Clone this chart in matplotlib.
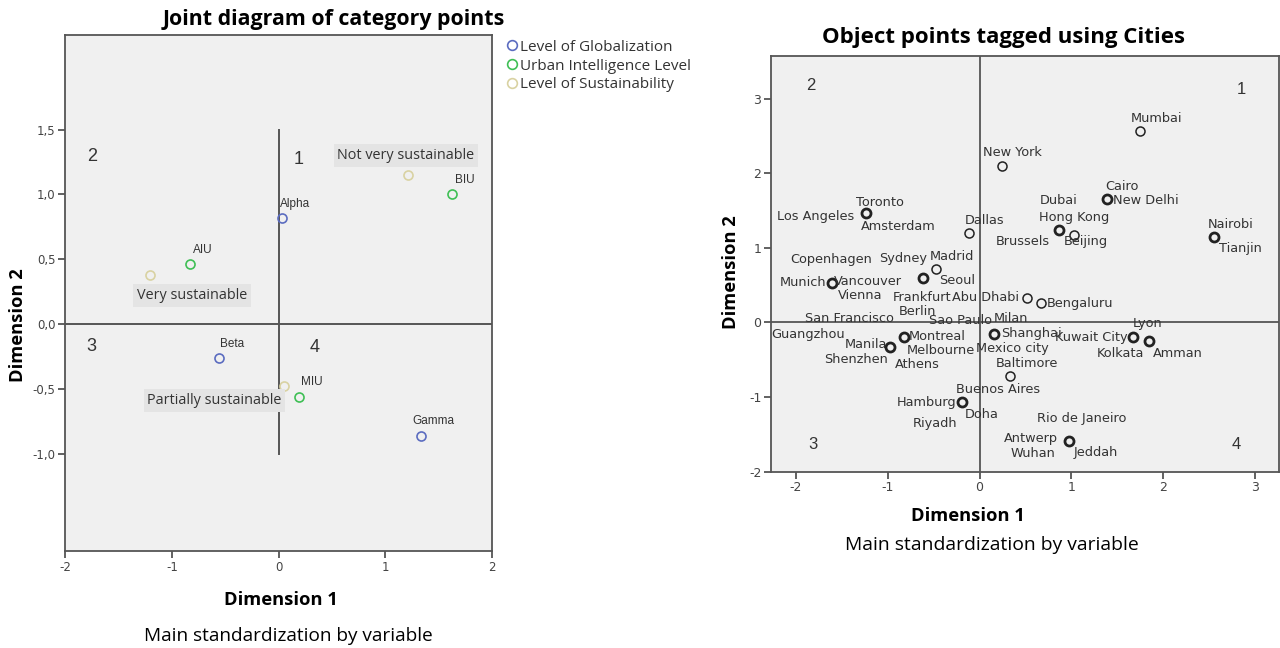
import matplotlib
matplotlib.use("Agg")
import matplotlib.pyplot as plt
from matplotlib.lines import Line2D
from matplotlib.ticker import FuncFormatter

plt.rcParams['axes.unicode_minus'] = False

# ---- left panel: category points ----
glob_names = ["Alpha", "Beta", "Gamma"]
glob_x = [0.03, -0.56, 1.33]
glob_y = [0.82, -0.26, -0.86]

intel_names = ["AIU", "BIU", "MIU"]
intel_x = [-0.83, 1.62, 0.19]
intel_y = [0.46, 1.00, -0.56]

sust_names = ["Very sustainable", "Not very sustainable", "Partially sustainable"]
sust_x = [-1.20, 1.21, 0.05]
sust_y = [0.38, 1.15, -0.48]

legend_labels = ["Level of Globalization", "Urban Intelligence Level", "Level of Sustainability"]
left_yticks = [-1.0, -0.5, 0.0, 0.5, 1.0, 1.5]
left_xticks = [-2, -1, 0, 1, 2]

# ---- right panel: object points (cities) ----
cities = ["Mumbai", "New York", "Cairo", "New Delhi", "Dubai",
          "Toronto", "Los Angeles", "Amsterdam", "Dallas",
          "Hong Kong", "Brussels", "Beijing", "Nairobi", "Tianjin",
          "Madrid", "Sydney", "Seoul", "Frankfurt",
          "Copenhagen", "Munich", "Vancouver", "Vienna",
          "Abu Dhabi", "Bengaluru",
          "Shanghai", "Milan", "Sao Paulo", "Mexico city",
          "Montreal", "Berlin", "Melbourne",
          "Manila", "San Francisco", "Shenzhen", "Athens", "Guangzhou",
          "Kuwait City", "Lyon", "Amman", "Kolkata", "Baltimore",
          "Hamburg", "Buenos Aires", "Doha", "Riyadh",
          "Antwerp", "Rio de Janeiro", "Wuhan", "Jeddah"]
city_x = [1.75, 0.24, 1.39, 1.39, 1.39,
          -1.24, -1.24, -1.24, -0.12,
          0.86, 0.86, 1.03, 2.55, 2.55,
          -0.47, -0.62, -0.62, -0.62,
          -1.61, -1.61, -1.61, -1.61,
          0.52, 0.67,
          0.16, 0.16, 0.16, 0.16,
          -0.82, -0.82, -0.82,
          -0.97, -0.97, -0.97, -0.97, -0.97,
          1.67, 1.67, 1.84, 1.84, 0.33,
          -0.19, -0.19, -0.19, -0.19,
          0.97, 0.97, 0.97, 0.97]
city_y = [2.56, 2.10, 1.66, 1.66, 1.66,
          1.46, 1.46, 1.46, 1.20,
          1.24, 1.24, 1.17, 1.14, 1.14,
          0.72, 0.59, 0.59, 0.59,
          0.53, 0.53, 0.53, 0.53,
          0.33, 0.26,
          -0.15, -0.15, -0.15, -0.15,
          -0.20, -0.20, -0.20,
          -0.33, -0.33, -0.33, -0.33, -0.33,
          -0.19, -0.19, -0.25, -0.25, -0.72,
          -1.07, -1.07, -1.07, -1.07,
          -1.59, -1.59, -1.59, -1.59]
right_ticks_x = [-2, -1, 0, 1, 2, 3]
right_ticks_y = [-2, -1, 0, 1, 2, 3]

# label placement (data-unit offsets from each point, left edge / centre)
label_off = {
    "Mumbai": (-0.10, 0.17), "New York": (-0.20, 0.18), "Cairo": (-0.02, 0.16),
    "New Delhi": (0.06, -0.03), "Dubai": (-0.73, -0.02), "Toronto": (-0.11, 0.15),
    "Los Angeles": (-0.97, -0.04), "Amsterdam": (-0.05, -0.17), "Dallas": (-0.04, 0.16),
    "Hong Kong": (-0.21, 0.17), "Brussels": (-0.68, -0.15), "Beijing": (-0.11, -0.08),
    "Nairobi": (-0.07, 0.17), "Tianjin": (0.06, -0.15), "Madrid": (-0.07, 0.16),
    "Sydney": (-0.47, 0.27), "Seoul": (0.18, -0.03), "Frankfurt": (-0.33, -0.26),
    "Copenhagen": (-0.45, 0.31), "Munich": (-0.56, 0.00), "Vancouver": (0.03, 0.02),
    "Vienna": (0.07, -0.17), "Abu Dhabi": (-0.82, 0.00), "Bengaluru": (0.06, 0.00),
    "Shanghai": (0.07, 0.00), "Milan": (-0.01, 0.20), "Sao Paulo": (-0.71, 0.17),
    "Mexico city": (-0.20, -0.20), "Montreal": (0.05, 0.01), "Berlin": (-0.06, 0.34),
    "Melbourne": (0.03, -0.17), "Manila": (-0.50, 0.03), "San Francisco": (-0.93, 0.38),
    "Shenzhen": (-0.72, -0.17), "Athens": (0.05, -0.24), "Guangzhou": (-1.30, 0.17),
    "Kuwait City": (-0.85, -0.01), "Lyon": (0.00, 0.17), "Amman": (0.05, -0.16),
    "Kolkata": (-0.56, -0.16), "Baltimore": (-0.15, 0.17), "Hamburg": (-0.71, 0.00),
    "Buenos Aires": (-0.07, 0.17), "Doha": (0.03, -0.16), "Riyadh": (-0.54, -0.28),
    "Antwerp": (-0.70, 0.03), "Rio de Janeiro": (-0.34, 0.30), "Wuhan": (-0.63, -0.17),
    "Jeddah": (0.05, -0.15),
}

colors = {'glob': '#5b6cc0', 'intel': '#3fbf55', 'sust': '#d9d2a2'}
face = '#f0f0f0'
spine_c = '#555555'
txt_c = '#333333'
head_font = 'Open Sans'

fig = plt.figure(figsize=(12.8, 6.48), dpi=100)

# ================= left =================
ax = fig.add_axes([65 / 1280, 1 - 551 / 648, 427.3 / 1280, 516 / 648])
ax.set_facecolor(face)
ax.set_xlim(-2, 2)
ax.set_ylim(-1.75, 2.23)
ax.plot([-2, 2], [0, 0], color=spine_c, lw=1.4, zorder=1)
ax.plot([0, 0], [-1.0, 1.5], color=spine_c, lw=1.4, zorder=1)

mk = dict(marker='o', linestyle='none', markersize=6.5, markerfacecolor='none',
          markeredgewidth=1.2, zorder=3)
ax.plot(glob_x, glob_y, markeredgecolor=colors['glob'], **mk)
ax.plot(intel_x, intel_y, markeredgecolor=colors['intel'], **mk)
ax.plot(sust_x, sust_y, markeredgecolor=colors['sust'], **mk)

for names, xs, ys in [(glob_names, glob_x, glob_y), (intel_names, intel_x, intel_y)]:
    for n, x, y in zip(names, xs, ys):
        ax.text(x + 0.12, y + 0.11, n, fontsize=8.5, family='Liberation Sans',
                color=txt_c, ha='center', va='center', zorder=4)

sust_off = [(0.39, -0.16), (-0.02, 0.15), (-0.65, -0.11)]
for n, x, y, (dx, dy) in zip(sust_names, sust_x, sust_y, sust_off):
    ax.text(x + dx, y + dy, n, fontsize=10.4, family=head_font, color=txt_c,
            ha='center', va='center', zorder=5,
            bbox=dict(boxstyle='square,pad=0.25', facecolor='#e4e4e4', edgecolor='none'))

for q, x, y in [("2", -1.75, 1.29), ("1", 0.19, 1.27), ("3", -1.75, -0.17), ("4", 0.34, -0.18)]:
    ax.text(x, y, q, fontsize=13, family='Liberation Sans', color=txt_c,
            ha='center', va='center')

ax.set_xticks(left_xticks)
ax.set_yticks(left_yticks)
ax.yaxis.set_major_formatter(FuncFormatter(lambda v, p: f"{v:.1f}".replace('.', ',')))
for s in ax.spines.values():
    s.set_color(spine_c)
    s.set_linewidth(1.3)
ax.tick_params(direction='out', length=5, width=1.3, color=spine_c,
               labelsize=8.5, labelcolor='#444444', pad=2)

handles = [Line2D([], [], marker='o', linestyle='none', markersize=7,
                  markerfacecolor='none', markeredgewidth=1.2, markeredgecolor=c)
           for c in [colors['glob'], colors['intel'], colors['sust']]]
leg = fig.legend(handles, legend_labels, loc='upper left',
                 bbox_to_anchor=(494 / 1280, 1 - 29 / 648), frameon=False,
                 handletextpad=0.0, handlelength=1.0, labelspacing=0.25,
                 borderaxespad=0.3, prop={'family': head_font, 'size': 11})
for t in leg.get_texts():
    t.set_color(txt_c)

fig.text(334 / 1280, 1 - 20 / 648, "Joint diagram of category points", fontsize=15.4,
         family=head_font, fontweight='bold', ha='center', va='center')
fig.text(281 / 1280, 1 - 600 / 648, "Dimension 1", fontsize=13.2, family=head_font,
         fontweight='bold', ha='center', va='center')
fig.text(18 / 1280, 1 - 325 / 648, "Dimension 2", fontsize=13.2, family=head_font,
         fontweight='bold', ha='center', va='center', rotation=90)
fig.text(288 / 1280, 1 - 636 / 648, "Main standardization by variable", fontsize=13.7,
         family=head_font, ha='center', va='center')

# ================= right =================
ax2 = fig.add_axes([771 / 1280, 1 - 471.7 / 648, 508 / 1280, 415.7 / 648])
ax2.set_facecolor(face)
ax2.set_xlim(-2.27, 3.26)
ax2.set_ylim(-1.99, 3.57)
ax2.axhline(0, color=spine_c, lw=1.3, zorder=1)
ax2.axvline(0, color=spine_c, lw=1.3, zorder=1)

# count cities sharing a position -> heavier ring
counts = {}
for x, y in zip(city_x, city_y):
    counts[(x, y)] = counts.get((x, y), 0) + 1
for (x, y), c in counts.items():
    ax2.plot([x], [y], marker='o', linestyle='none', markersize=6.5,
             markerfacecolor='none', markeredgecolor='#222222',
             markeredgewidth=1.1 if c == 1 else 2.0, zorder=3)

for n, x, y in zip(cities, city_x, city_y):
    dx, dy = label_off[n]
    ax2.text(x + dx, y + dy, n, fontsize=9.3, family='DejaVu Sans', color=txt_c,
             ha='left', va='center', zorder=4)

for q, x, y in [("2", -1.84, 3.17), ("1", 2.85, 3.12), ("3", -1.81, -1.64), ("4", 2.80, -1.64)]:
    ax2.text(x, y, q, fontsize=12, family='Liberation Sans', color=txt_c,
             ha='center', va='center')

ax2.set_xticks(right_ticks_x)
ax2.set_yticks(right_ticks_y)
for s in ax2.spines.values():
    s.set_color(spine_c)
    s.set_linewidth(1.3)
ax2.tick_params(direction='out', length=5, width=1.3, color=spine_c,
                labelsize=9, labelcolor='#444444', pad=2)

fig.text(1003 / 1280, 1 - 37 / 648, "Object points tagged using Cities", fontsize=16,
         family=head_font, fontweight='bold', ha='center', va='center')
fig.text(968 / 1280, 1 - 516 / 648, "Dimension 1", fontsize=13.2, family=head_font,
         fontweight='bold', ha='center', va='center')
fig.text(731 / 1280, 1 - 272 / 648, "Dimension 2", fontsize=13.2, family=head_font,
         fontweight='bold', ha='center', va='center', rotation=90)
fig.text(992 / 1280, 1 - 545 / 648, "Main standardization by variable", fontsize=13.9,
         family=head_font, ha='center', va='center')

fig.savefig("out.png", dpi=100)
